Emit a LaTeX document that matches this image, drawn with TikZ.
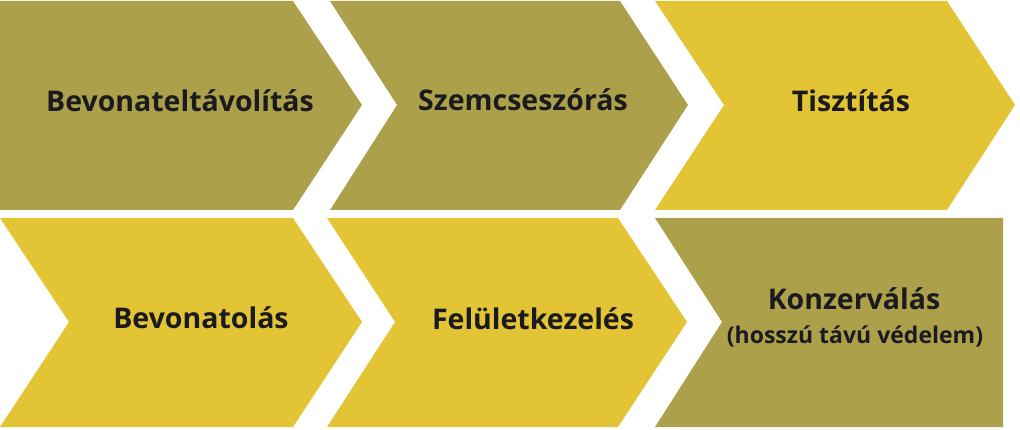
\documentclass[tikz,border=0pt]{standalone}
\usepackage{fontspec}
\setmainfont{Open Sans}
\definecolor{olive}{HTML}{ADA04A}
\definecolor{mustard}{HTML}{E2C434}
\definecolor{ink}{HTML}{1B1B1F}
\begin{document}
\begin{tikzpicture}[x=1pt,y=-1pt]
        \useasboundingbox (0,0) rectangle (1020,430);
        \begin{scope}
          \fill[olive] (0,1) -- (293,1) -- (362,105) -- (293,210) -- (0,210) -- cycle;
          \fill[olive] (330,1) -- (620,1) -- (688,105) -- (620,210) -- (330,210) -- (397,105) -- cycle;
          \fill[mustard] (655,1) -- (947,1) -- (1015,105) -- (947,210) -- (655,210) -- (724,105) -- cycle;
          \fill[mustard] (0,218) -- (293,218) -- (362,322) -- (293,427) -- (0,427) -- (69,322) -- cycle;
          \fill[mustard] (327,218) -- (618,218) -- (687,322) -- (618,427) -- (327,427) -- (395,322) -- cycle;
          \fill[olive] (655,218) -- (1003,218) -- (1003,427) -- (655,427) -- (722,322) -- cycle;
        \end{scope}
        \begin{scope}[every node/.style={anchor=base,text=ink,font=\bfseries\fontsize{28.5}{32}\selectfont,inner sep=0pt}]
          \node (strip) at (180,112) {Bevonateltávolítás};
          \node (blast) at (523,111) {Szemcseszórás};
          \node (clean) at (851,112) {Tisztítás};
          \node (coat) at (201,329) {Bevonatolás};
          \node (finish) at (533,330) {Felületkezelés};
          \node (conserve) at (854,309) {Konzerválás};
          \node[font=\bfseries\fontsize{23}{26}\selectfont] (note) at (855,343) {(hosszú távú védelem)};
        \end{scope}
\end{tikzpicture}
\end{document}
